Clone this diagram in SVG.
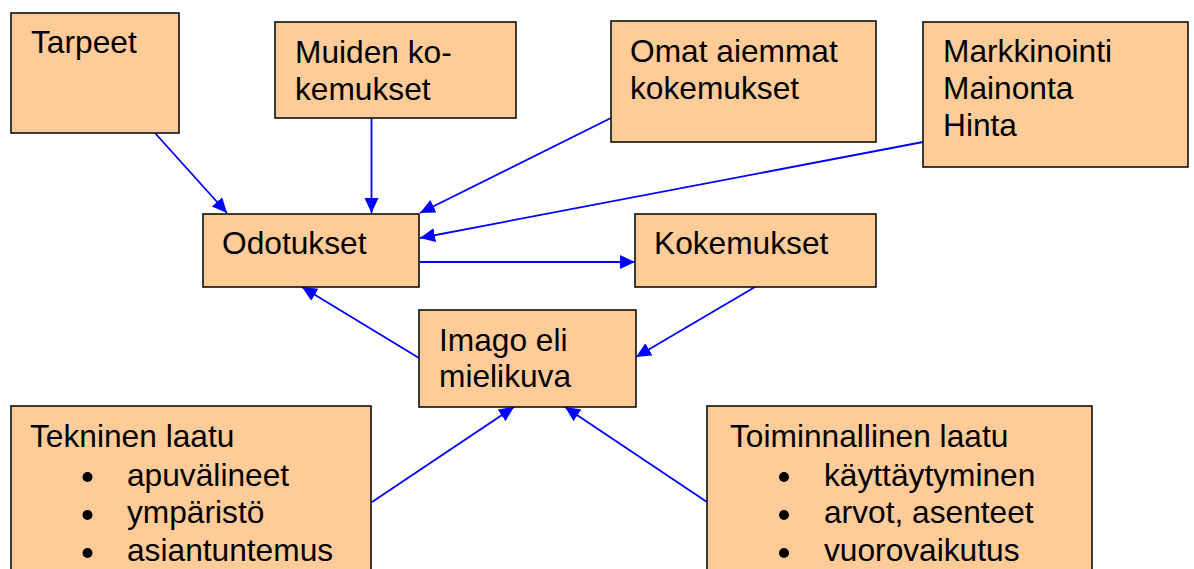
<svg xmlns="http://www.w3.org/2000/svg" width="1194" height="569" viewBox="0 0 1194 569">
<style>
.box{fill:#FFCC99;stroke:#000;stroke-width:1.5}
.t{font-family:"Liberation Sans",Arial,sans-serif;font-size:31.7px;fill:#000}
.c{stroke:#0000FF;stroke-width:1.8;fill:none;marker-end:url(#ah)}
.b{fill:#000}
</style>
<defs>
<marker id="ah" markerUnits="userSpaceOnUse" markerWidth="16" markerHeight="16" refX="15" refY="7" orient="auto">
<path d="M0,0 L15,7 L0,14 z" fill="#0000FF"/>
</marker>
</defs>
<rect width="1194" height="569" fill="#fff"/>
<g id="connectors">
<line class="c" x1="155" y1="133" x2="227" y2="213"/>
<line class="c" x1="371.5" y1="118" x2="371.5" y2="213"/>
<line class="c" x1="611" y1="118" x2="420" y2="213"/>
<line class="c" x1="923" y1="142" x2="420" y2="238"/>
<line class="c" x1="420" y1="262" x2="635" y2="262"/>
<line class="c" x1="755" y1="287" x2="636" y2="357"/>
<line class="c" x1="419" y1="358" x2="302" y2="287"/>
<line class="c" x1="372" y1="502" x2="514" y2="407"/>
<line class="c" x1="707" y1="502" x2="565" y2="407"/>
</g>
<g id="tarpeet">
<rect class="box" x="11" y="13" width="168" height="120"/>
<text class="t" x="31" y="53">Tarpeet</text>
</g>
<g id="muiden">
<rect class="box" x="275" y="22" width="241" height="96"/>
<text class="t" x="295" y="63">Muiden ko-</text>
<text class="t" x="295" y="99.5">kemukset</text>
</g>
<g id="omat">
<rect class="box" x="611" y="21" width="265" height="121"/>
<text class="t" x="630" y="62">Omat aiemmat</text>
<text class="t" x="630" y="99">kokemukset</text>
</g>
<g id="markkinointi">
<rect class="box" x="923" y="22" width="265" height="145"/>
<text class="t" x="943" y="62">Markkinointi</text>
<text class="t" x="943" y="98.7">Mainonta</text>
<text class="t" x="943" y="135.5">Hinta</text>
</g>
<g id="odotukset">
<rect class="box" x="203" y="214" width="216" height="73"/>
<text class="t" x="222" y="254.3">Odotukset</text>
</g>
<g id="kokemukset">
<rect class="box" x="635" y="214" width="241" height="73"/>
<text class="t" x="654" y="254.3">Kokemukset</text>
</g>
<g id="imago">
<rect class="box" x="419" y="310" width="217" height="97"/>
<text class="t" x="439" y="350.7">Imago eli</text>
<text class="t" x="439" y="386.7">mielikuva</text>
</g>
<g id="tekninen">
<rect class="box" x="11" y="406" width="360" height="180"/>
<text class="t" x="30" y="446.7">Tekninen laatu</text>
<circle class="b" cx="87.5" cy="477" r="5"/>
<text class="t" x="127" y="485.7">apuvälineet</text>
<circle class="b" cx="87.5" cy="515" r="5"/>
<text class="t" x="127" y="523.3">ympäristö</text>
<circle class="b" cx="87.5" cy="553" r="5"/>
<text class="t" x="127" y="561">asiantuntemus</text>
</g>
<g id="toiminnallinen">
<rect class="box" x="707" y="406" width="385" height="180"/>
<text class="t" x="730" y="446.7">Toiminnallinen laatu</text>
<circle class="b" cx="784" cy="477" r="5"/>
<text class="t" x="824" y="485.7">käyttäytyminen</text>
<circle class="b" cx="784" cy="515" r="5"/>
<text class="t" x="824" y="523">arvot, asenteet</text>
<circle class="b" cx="784" cy="553" r="5"/>
<text class="t" x="824" y="561">vuorovaikutus</text>
</g>
</svg>
